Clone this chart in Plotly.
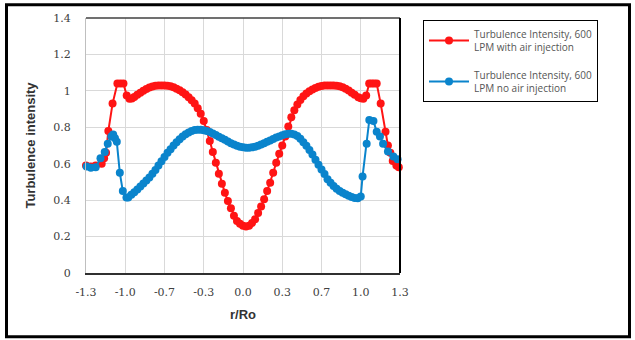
import plotly.graph_objects as go

# Red series: 600 LPM with air injection
red_r = [-1.30, -1.26, -1.22, -1.17, -1.15, -1.134, -1.115, -1.08, -1.04, -1.015, -0.99, -0.963,
         -0.94, -0.92, -0.9, -0.875, -0.85, -0.825, -0.8, -0.775, -0.75, -0.725, -0.7, -0.675,
         -0.65, -0.625, -0.6, -0.575, -0.55, -0.525, -0.5, -0.475, -0.45, -0.425, -0.4, -0.375,
         -0.35, -0.325, -0.3, -0.275, -0.25, -0.225, -0.2, -0.175, -0.15, -0.125, -0.1, -0.075,
         -0.05, -0.025, 0.0, 0.025, 0.05, 0.075, 0.1, 0.125, 0.15, 0.175, 0.2, 0.225,
         0.25, 0.275, 0.3, 0.325, 0.35, 0.375, 0.4, 0.425, 0.45, 0.475, 0.5, 0.525,
         0.55, 0.575, 0.6, 0.625, 0.65, 0.675, 0.7, 0.725, 0.75, 0.775, 0.8, 0.825,
         0.85, 0.875, 0.9, 0.925, 0.955, 0.975, 0.996, 1.02, 1.045, 1.065, 1.085, 1.107,
         1.14, 1.18, 1.2, 1.22, 1.24, 1.27, 1.29]
red_ti = [0.59, 0.585, 0.59, 0.60, 0.63, 0.66, 0.78, 0.93, 1.04, 1.04, 1.04, 0.975,
          0.957, 0.958, 0.966, 0.978, 0.99, 1.0, 1.01, 1.018, 1.024, 1.028, 1.03, 1.03,
          1.03, 1.028, 1.025, 1.02, 1.012, 1.003, 0.993, 0.98, 0.965, 0.948, 0.93, 0.905,
          0.875, 0.835, 0.785, 0.725, 0.665, 0.605, 0.545, 0.49, 0.44, 0.395, 0.355, 0.315,
          0.285, 0.27, 0.26, 0.255, 0.26, 0.275, 0.295, 0.33, 0.365, 0.405, 0.45, 0.495,
          0.55, 0.605, 0.655, 0.70, 0.75, 0.805, 0.855, 0.893, 0.925, 0.95, 0.97, 0.985,
          0.998, 1.008, 1.016, 1.022, 1.027, 1.03, 1.03, 1.03, 1.03, 1.028, 1.025, 1.02,
          1.012, 1.002, 0.99, 0.978, 0.965, 0.96, 0.957, 0.975, 1.04, 1.04, 1.04, 1.04,
          0.93, 0.776, 0.70, 0.66, 0.615, 0.59, 0.58]

# Blue series: 600 LPM no air injection
blue_r = [-1.295, -1.26, -1.22, -1.18, -1.145, -1.12, -1.09, -1.075, -1.06, -1.045, -1.02, -0.995,
          -0.965, -0.95, -0.925, -0.9, -0.875, -0.85, -0.825, -0.8, -0.775, -0.75, -0.725, -0.7,
          -0.675, -0.65, -0.625, -0.6, -0.575, -0.55, -0.525, -0.5, -0.475, -0.45, -0.425, -0.4,
          -0.375, -0.35, -0.325, -0.3, -0.275, -0.25, -0.225, -0.2, -0.175, -0.15, -0.125, -0.1,
          -0.075, -0.05, -0.025, 0.0, 0.025, 0.05, 0.075, 0.1, 0.125, 0.15, 0.175, 0.2,
          0.225, 0.25, 0.275, 0.3, 0.325, 0.35, 0.375, 0.4, 0.425, 0.45, 0.475, 0.5,
          0.525, 0.55, 0.575, 0.6, 0.625, 0.65, 0.675, 0.7, 0.725, 0.75, 0.775, 0.8,
          0.825, 0.85, 0.875, 0.9, 0.925, 0.95, 0.975, 0.99, 1.024, 1.046, 1.08, 1.107,
          1.134, 1.16, 1.2, 1.245, 1.28]
blue_ti = [0.585, 0.578, 0.58, 0.63, 0.665, 0.71, 0.75, 0.76, 0.74, 0.72, 0.55, 0.45,
           0.415, 0.415, 0.43, 0.443, 0.458, 0.475, 0.492, 0.508, 0.525, 0.545, 0.565, 0.59,
           0.613, 0.637, 0.66, 0.68, 0.70, 0.718, 0.735, 0.75, 0.762, 0.772, 0.78, 0.785,
           0.787, 0.787, 0.784, 0.78, 0.774, 0.766, 0.757, 0.748, 0.74, 0.731, 0.722, 0.713,
           0.705, 0.698, 0.693, 0.69, 0.688, 0.688, 0.69, 0.693, 0.698, 0.705, 0.712, 0.72,
           0.728, 0.736, 0.744, 0.75, 0.756, 0.762, 0.765, 0.764, 0.76, 0.752, 0.737, 0.718,
           0.698, 0.675, 0.65, 0.622, 0.595, 0.568, 0.543, 0.515, 0.495, 0.477, 0.462, 0.45,
           0.44, 0.432, 0.424, 0.417, 0.412, 0.41, 0.42, 0.53, 0.71, 0.84, 0.834, 0.776,
           0.75, 0.71, 0.667, 0.64, 0.625]

x_tickvals = [-1.3, -0.975, -0.65, -0.325, 0.0, 0.325, 0.65, 0.975, 1.3]
x_ticktext = ["-1.3", "-1.0", "-0.7", "-0.3", "0.0", "0.3", "0.7", "1.0", "1.3"]
y_tickvals = [0, 0.2, 0.4, 0.6, 0.8, 1.0, 1.2, 1.4]
y_ticktext = ["0", "0.2", "0.4", "0.6", "0.8", "1", "1.2", "1.4"]

RED = "#FF1414"
BLUE = "#0A84CC"

fig = go.Figure()
fig.add_trace(go.Scatter(
    x=red_r, y=red_ti, mode="lines+markers",
    name="Turbulence Intensity, 600<br>LPM with air injection",
    line=dict(color=RED, width=2), marker=dict(color=RED, size=8),
    cliponaxis=False, legendgroup="a"))
fig.add_trace(go.Scatter(
    x=blue_r, y=blue_ti, mode="lines+markers",
    name="Turbulence Intensity, 600<br>LPM no air injection",
    line=dict(color=BLUE, width=2), marker=dict(color=BLUE, size=8),
    cliponaxis=False, legendgroup="b"))

L, R, T, B = 86, 400, 15, 273
W, H = 635, 340
pw, ph = R - L, B - T

def px2x(px):
    return (px - L) / pw

def py2y(py):
    return (B - py) / ph

shapes = [
    # plot area top and right edges
    dict(type="line", xref="paper", yref="paper", x0=0, x1=1, y0=1, y1=1,
         line=dict(color="#404040", width=1.5)),
    dict(type="line", xref="paper", yref="paper", x0=1, x1=1, y0=0, y1=1,
         line=dict(color="#000000", width=2)),
    # outer frame
    dict(type="rect", xref="paper", yref="paper",
         x0=px2x(6.5), x1=px2x(629.5), y0=py2y(337.5), y1=py2y(1.5),
         line=dict(color="#000000", width=3), layer="above"),
]

fig.update_layout(
    width=W, height=H,
    margin=dict(l=L, r=W - R, t=T, b=H - B),
    paper_bgcolor="white", plot_bgcolor="white",
    showlegend=True,
    legend=dict(
        xref="container", yref="container",
        x=423 / W, y=1 - 20 / H, xanchor="left", yanchor="top",
        bordercolor="#000000", borderwidth=1,
        font=dict(family="Open Sans, Liberation Sans, sans-serif", size=10, color="#555555"),
        tracegroupgap=12, itemwidth=40,
        bgcolor="white",
    ),
    xaxis=dict(
        range=[-1.3, 1.3], tickvals=x_tickvals, ticktext=x_ticktext,
        showgrid=True, gridcolor="#D9D9D9", gridwidth=1,
        showline=True, linecolor="#303030", linewidth=2,
        zeroline=False, ticks="", ticklabelstandoff=8,
        tickfont=dict(family="DejaVu Serif, serif", size=11, color="#404040"),
        title=dict(text="<b>r/Ro</b>", standoff=12,
                   font=dict(family="Liberation Sans, Arial, sans-serif", size=13, color="#333333")),
    ),
    yaxis=dict(
        range=[0, 1.4], tickvals=y_tickvals, ticktext=y_ticktext,
        showgrid=True, gridcolor="#D9D9D9", gridwidth=1,
        showline=True, linecolor="#BFBFBF", linewidth=1,
        zeroline=False, ticks="", ticklabelstandoff=12,
        tickfont=dict(family="DejaVu Serif, serif", size=11, color="#404040"),
        title=dict(text="<b>Turbulence intensity</b>", standoff=14,
                   font=dict(family="Liberation Sans, Arial, sans-serif", size=13, color="#333333")),
    ),
    shapes=shapes,
)

fig.write_html("out.html")
